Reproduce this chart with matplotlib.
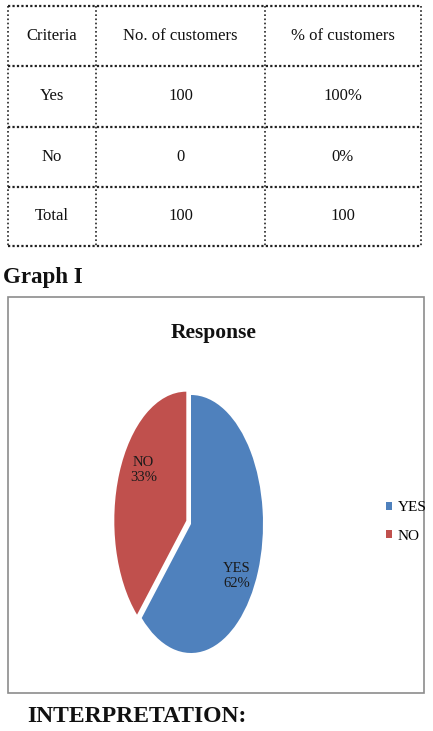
import matplotlib.pyplot as plt
from matplotlib.patches import Rectangle

# table data
col_heads = ['Criteria', 'No. of customers', '% of customers']
criteria = ['Yes', 'No', 'Total']
n_customers = ['100', '0', '100']
pct_customers = ['100%', '0%', '100']

# pie data (slice sizes, labels as printed)
answers = ['YES', 'NO']
shares = [62, 38]
label_pct = ['62%', '33%']
colors = ['#4F81BD', '#C0504D']

W, H = 433, 731
fig = plt.figure(figsize=(W / 100, H / 100), dpi=100)
bg = fig.add_axes([0, 0, 1, 1])
bg.set_xlim(0, W)
bg.set_ylim(H, 0)
bg.axis('off')

serif = 'Liberation Serif'

# --- table ---
xs = [8, 96, 265, 421]
ys = [6, 66, 127, 187, 246]
for y in ys:
    bg.plot([xs[0], xs[-1]], [y, y], color='#222222', lw=1.6, ls=(0, (1, 1)))
for x in xs:
    bg.plot([x, x], [ys[0], ys[-1]], color='#222222', lw=1.2, ls=(0, (1, 1.5)))

rows = [col_heads] + [list(r) for r in zip(criteria, n_customers, pct_customers)]
for i, row in enumerate(rows):
    yc = (ys[i] + ys[i + 1]) / 2
    for j, txt in enumerate(row):
        xc = (xs[j] + xs[j + 1]) / 2
        bg.text(xc, yc, txt, ha='center', va='center', family=serif,
                fontsize=12, color='#111111')

bg.text(3, 278, 'Graph I', ha='left', va='center', family=serif,
        fontsize=16.5, fontweight='bold', color='#111111')

# chart frame
bg.add_patch(Rectangle((8, 297), 416, 396, fill=False, ec='#8c8c8c', lw=1.2))
bg.text(214, 333, 'Response', ha='center', va='center', family=serif,
        fontsize=15.5, fontweight='bold', color='#111111')

bg.text(27, 716, 'INTERPRETATION:', ha='left', va='center', family=serif,
        fontsize=17, fontweight='bold', color='#111111')

# --- pie (stretched ellipse) ---
cx, cy, rx, ry = 191, 524, 72, 129
lim = 1.15
ax = fig.add_axes([(cx - rx * lim) / W, 1 - (cy + ry * lim) / H,
                   2 * rx * lim / W, 2 * ry * lim / H])
wedges, _ = ax.pie(shares, colors=colors, startangle=90, counterclock=False,
                   explode=[0, 0.07], wedgeprops=dict(lw=0))
ax.set_aspect('auto')
ax.set_xlim(-lim, lim)
ax.set_ylim(-lim, lim)

ax.text(0.64, -0.40, answers[0] + '\n' + label_pct[0], ha='center', va='center',
        family=serif, fontsize=10.5, color='#1a1a1a', linespacing=1.2)
ax.text(-0.66, 0.42, answers[1] + '\n' + label_pct[1], ha='center', va='center',
        family=serif, fontsize=10.5, color='#1a1a1a', linespacing=1.2)

fig.legend(wedges, answers, loc='center left', bbox_to_anchor=(386 / W, 1 - 522 / H),
           frameon=False, prop=dict(family=serif, size=11),
           handlelength=0.4, handleheight=0.4, handletextpad=0.35,
           labelspacing=1.0, borderpad=0, borderaxespad=0)

fig.savefig('out.png', dpi=100)
